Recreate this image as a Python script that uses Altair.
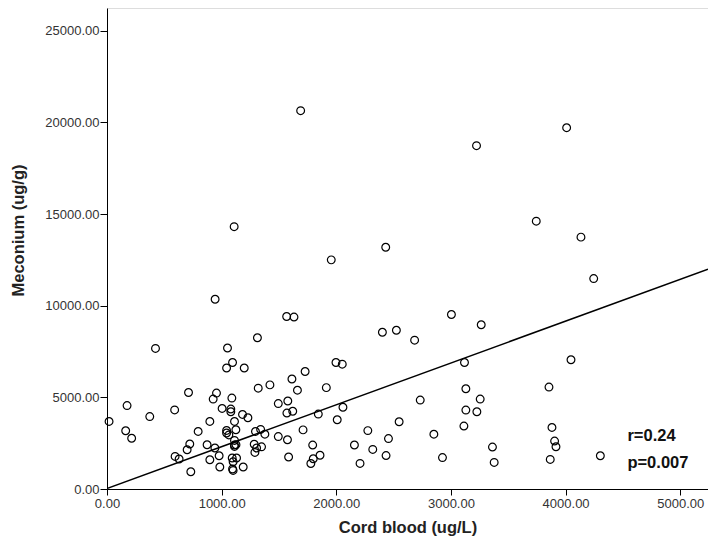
import altair as alt
import pandas as pd

# Scatter data (Cord blood ug/L, Meconium ug/g)
cord = [1689, 4009, 3223, 1109, 3744, 4134, 2431, 1956, 4245, 943,
        3004, 1567, 1631, 3264, 2524, 2402, 1312, 2683, 423, 1051,
        4047, 1095, 1997, 2052, 3118, 1043, 1197, 1728, 1613, 1421,
        1319, 1913, 1661, 3130, 3855, 711, 955, 926, 1089, 3255,
        2732, 1577, 175, 1494, 2058, 590, 1004, 1080, 1080, 1620,
        1569, 3130, 3226, 1843, 1182, 1229, 373, 18, 897, 1112,
        2008, 2548, 3113, 3881, 163, 795, 1043, 1124, 1340, 1710,
        2275, 1295, 1377, 1043, 2851, 215, 1494, 2455, 1574, 3904,
        722, 873, 699, 941, 1112, 1112, 1284, 1348, 1794, 2158,
        3362, 3916, 2318, 594, 629, 1112, 978, 897, 1092, 1100,
        1858, 1799, 1584, 2434, 2926, 3866, 4303, 1778, 2207, 3377,
        731, 984, 1095, 1100, 1188, 1290, 1305, 1125, 1063, 1130]
meconium = [20640, 19710, 18730, 14310, 14610, 13740, 13190, 12500, 11480, 10350,
            9520, 9410, 9380, 8960, 8660, 8550, 8250, 8120, 7670, 7690,
            7050, 6900, 6900, 6810, 6900, 6600, 6600, 6410, 6000, 5680,
            5500, 5530, 5390, 5467, 5560, 5266, 5233, 4906, 4960, 4906,
            4851, 4800, 4550, 4660, 4460, 4315, 4394, 4361, 4214, 4240,
            4143, 4306, 4214, 4088, 4067, 3887, 3950, 3685, 3685, 3685,
            3778, 3668, 3434, 3358, 3178, 3140, 3194, 3232, 3250, 3225,
            3186, 3140, 2990, 3053, 2990, 2770, 2860, 2750, 2687, 2616,
            2453, 2415, 2142, 2235, 2650, 2398, 2440, 2300, 2398, 2400,
            2289, 2306, 2159, 1777, 1635, 2322, 1815, 1597, 1690, 1488,
            1840, 1650, 1744, 1825, 1715, 1614, 1815, 1390, 1395, 1450,
            943, 1199, 1090, 1014, 1199, 1995, 2235, 2420, 2950, 1690]

# Fit line endpoints
fit_x = [0, 5242]
fit_y = [30, 11990]

# Annotation
ann_text = ["r=0.24", "p=0.007"]
ann_x = [4539, 4539]
ann_y = [2595, 1145]

x_ticks = [0, 1000, 2000, 3000, 4000, 5000]
y_ticks = [0, 5000, 10000, 15000, 20000, 25000]

pts = pd.DataFrame({"x": cord, "y": meconium})
fit = pd.DataFrame({"x": fit_x, "y": fit_y})
ann = pd.DataFrame({"x": ann_x, "y": ann_y, "t": ann_text})

FONT = "Liberation Sans"

xscale = alt.Scale(domain=[0, 5242], nice=False, zero=False)
yscale = alt.Scale(domain=[0, 26240], nice=False, zero=False)

xaxis = alt.Axis(title="Cord blood (ug/L)", values=x_ticks, format=".2f",
                 grid=False, tickSize=6, labelPadding=2, titlePadding=9,
                 labelFontSize=13, titleFontSize=16.5, titleFontWeight="bold",
                 labelFont=FONT, titleFont=FONT, labelColor="#333333",
                 titleColor="#222222", domainColor="#000000", tickColor="#000000",
                 labelFlush=False)
yaxis = alt.Axis(title="Meconium (ug/g)", values=y_ticks, format=".2f",
                 grid=False, tickSize=7, labelPadding=1, titlePadding=18,
                 titleY=222,
                 labelFontSize=13, titleFontSize=16.5, titleFontWeight="bold",
                 labelFont=FONT, titleFont=FONT, labelColor="#333333",
                 titleColor="#222222", domainColor="#000000", tickColor="#000000",
                 labelFlush=False)

points = alt.Chart(pts).mark_point(shape="circle", filled=False, color="#000000",
                                   size=60, strokeWidth=1.2, opacity=1).encode(
    x=alt.X("x:Q", scale=xscale, axis=xaxis),
    y=alt.Y("y:Q", scale=yscale, axis=yaxis),
)

line = alt.Chart(fit).mark_line(color="#000000", strokeWidth=1.5, clip=True).encode(
    x=alt.X("x:Q", scale=xscale),
    y=alt.Y("y:Q", scale=yscale),
)

text = alt.Chart(ann).mark_text(align="left", baseline="alphabetic", font=FONT,
                                fontSize=16.5, fontWeight="bold", color="#111111").encode(
    x=alt.X("x:Q", scale=xscale),
    y=alt.Y("y:Q", scale=yscale),
    text="t:N",
)

chart = alt.layer(points, line, text).properties(
    width=601, height=481,
    autosize=alt.AutoSizeParams(type="none"),
    padding={"left": 99, "top": 0, "right": 0, "bottom": 51},
).configure_view(stroke="#808080", strokeWidth=1.5).configure(background="white")

chart.save("out.html", embed_options={"renderer": "svg", "actions": False})
